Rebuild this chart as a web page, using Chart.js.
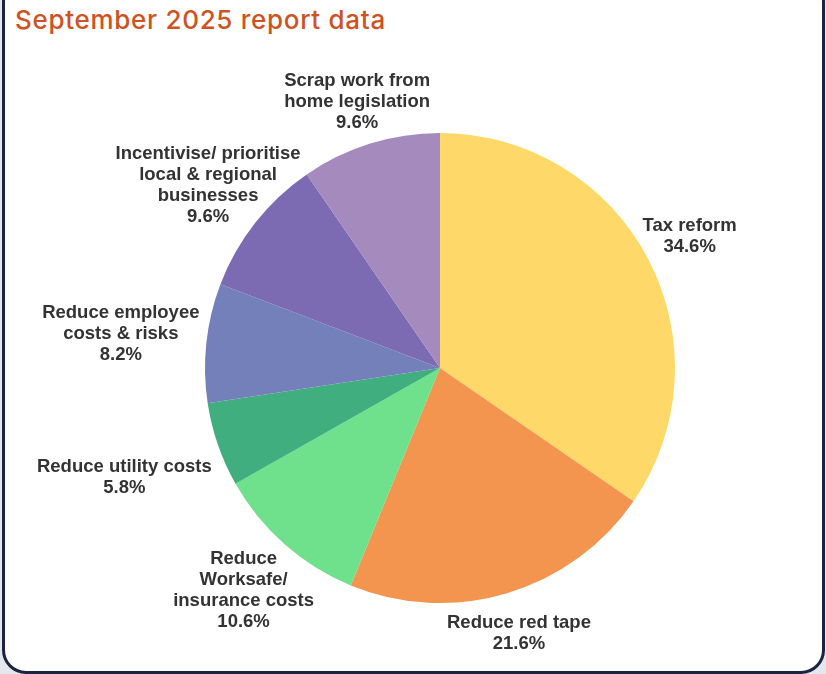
<!DOCTYPE html>
<html>
<head>
<meta charset="utf-8">
<script src="https://cdn.jsdelivr.net/npm/chart.js@4/dist/chart.umd.min.js"></script>
<style>
  html, body { margin: 0; padding: 0; }
  body { width: 826px; height: 674px; background: #e4e7ee; position: relative; overflow: hidden; }
  .card {
    position: absolute; left: 2px; top: -22px; width: 817px; height: 690px;
    background: #ffffff; border: 3px solid #1d2440; border-radius: 24px;
  }
  h1 {
    position: absolute; left: 15px; top: 4px; margin: 0;
    font-family: Inter, "Open Sans", sans-serif; font-weight: 500; font-size: 26px;
    color: #d0521f; letter-spacing: 0.7px;
  }
  #wrap { position: absolute; left: 0; top: 0; width: 826px; height: 674px; }
</style>
</head>
<body>
<div class="card"></div>
<h1>September 2025 report data</h1>
<div id="wrap"><canvas id="chart"></canvas></div>
<script>
// Survey categories (label lines) and their shares in percent
const categories = [
  ['Tax reform'],
  ['Reduce red tape'],
  ['Reduce', 'Worksafe/', 'insurance costs'],
  ['Reduce utility costs'],
  ['Reduce employee', 'costs & risks'],
  ['Incentivise/ prioritise', 'local & regional', 'businesses'],
  ['Scrap work from', 'home legislation']
];
const shares = [34.6, 21.6, 10.6, 5.8, 8.2, 9.6, 9.6];
const sliceColors = ['#fed96a', '#f3944f', '#6fe08b', '#40ae7e', '#7480ba', '#7c6ab2', '#a58bbd'];
// distance of each label's centre beyond the pie edge, in px
const labelGap = [47, 42, 62, 99, 86, 60, 44];

const outsideLabels = {
  id: 'outsideLabels',
  afterDatasetsDraw(chart) {
    const ctx = chart.ctx;
    const meta = chart.getDatasetMeta(0);
    const lineH = 21;
    ctx.save();
    ctx.font = 'bold 18.5px "Liberation Sans", Arial, sans-serif';
    ctx.fillStyle = '#333333';
    ctx.textAlign = 'center';
    ctx.textBaseline = 'middle';
    meta.data.forEach((arc, i) => {
      const p = arc.getProps(['x', 'y', 'startAngle', 'endAngle', 'outerRadius'], true);
      const mid = (p.startAngle + p.endAngle) / 2;
      const d = p.outerRadius + labelGap[i];
      const cx = p.x + Math.cos(mid) * d;
      const cy = p.y + Math.sin(mid) * d;
      const lines = categories[i].concat([shares[i].toFixed(1) + '%']);
      const top = cy - (lines.length - 1) * lineH / 2;
      lines.forEach((t, k) => ctx.fillText(t, cx, top + k * lineH));
    });
    ctx.restore();
  }
};

new Chart(document.getElementById('chart'), {
  type: 'pie',
  data: {
    labels: categories.map(c => c.join(' ')),
    datasets: [{
      data: shares,
      backgroundColor: sliceColors,
      borderWidth: 0
    }]
  },
  options: {
    responsive: true,
    maintainAspectRatio: false,
    animation: false,
    layout: { padding: { left: 205, right: 151, top: 133, bottom: 71 } },
    plugins: {
      legend: { display: false },
      tooltip: { enabled: false }
    }
  },
  plugins: [outsideLabels]
});
</script>
</body>
</html>
